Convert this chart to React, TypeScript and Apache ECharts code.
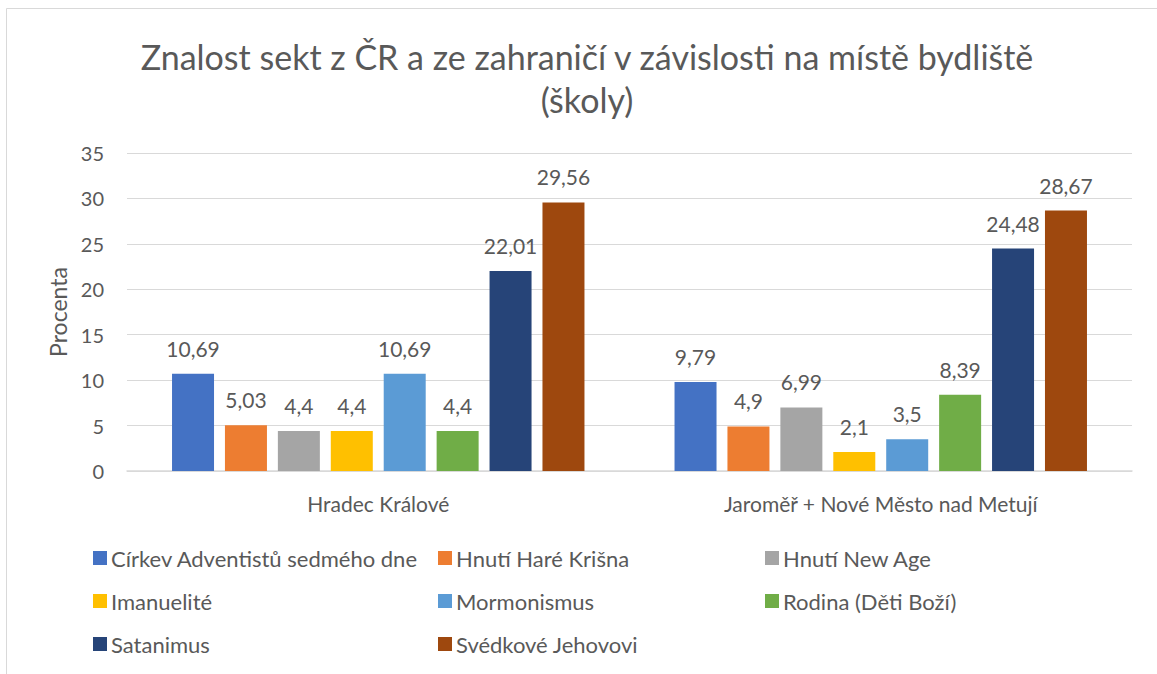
import React, { useEffect, useRef } from "react";
import * as echarts from "echarts";

const categories = ["Hradec Králové", "Jaroměř + Nové Město nad Metují"];
const seriesNames = [
  "Církev Adventistů sedmého dne",
  "Hnutí Haré Krišna",
  "Hnutí New Age",
  "Imanuelité",
  "Mormonismus",
  "Rodina (Děti Boží)",
  "Satanimus",
  "Svédkové Jehovovi",
];
const hradecValues = [10.69, 5.03, 4.4, 4.4, 10.69, 4.4, 22.01, 29.56];
const jaromerValues = [9.79, 4.9, 6.99, 2.1, 3.5, 8.39, 24.48, 28.67];
const colors = ["#4472C4", "#ED7D31", "#A5A5A5", "#FFC000", "#5B9BD5", "#70AD47", "#264478", "#9E480E"];
const legendColumns = [
  [0, 3, 6],
  [1, 4, 7],
  [2, 5],
];
const legendLefts = [88, 433, 760];

const FONT = "Lato";
const TXT = "#595959";

export default function App() {
  const ref = useRef<HTMLDivElement>(null);
  useEffect(() => {
    if (!ref.current) return;
    const chart = echarts.init(ref.current, null, { renderer: "svg" });
    chart.setOption({
      animation: false,
      backgroundColor: "#ffffff",
      textStyle: { fontFamily: FONT, color: TXT },
      title: {
        text: "Znalost sekt z ČR a ze zahraničí v závislosti na místě bydliště\n(školy)",
        left: 582,
        textAlign: "center",
        top: 30,
        textStyle: { fontFamily: FONT, fontSize: 34, fontWeight: "normal", color: TXT, lineHeight: 43 },
      },
      graphic: [
        {
          type: "rect",
          shape: { x: 6.5, y: 8.5, width: 1300, height: 800 },
          style: { fill: "none", stroke: "#d9d9d9", lineWidth: 1 },
          silent: true,
        },
      ],
      legend: legendColumns.map((col, i) => ({
        orient: "vertical",
        left: legendLefts[i],
        top: 542,
        itemWidth: 14,
        itemHeight: 14,
        itemGap: 21,
        icon: "rect",
        data: col.map((k) => seriesNames[k]),
        textStyle: { fontFamily: FONT, fontSize: 22, color: TXT, padding: [0, 0, 0, -1] },
      })),
      grid: { left: 127, right: 25, top: 153, bottom: 203, containLabel: false },
      xAxis: {
        type: "category",
        data: categories,
        axisTick: { show: false },
        axisLine: { show: true, lineStyle: { color: "#d9d9d9", width: 1.5 } },
        axisLabel: { fontFamily: FONT, fontSize: 21, color: TXT, margin: 22 },
      },
      yAxis: {
        type: "value",
        min: 0,
        max: 35,
        interval: 5,
        name: "Procenta",
        nameLocation: "middle",
        nameGap: 57,
        nameTextStyle: { fontFamily: FONT, fontSize: 23, color: TXT },
        axisLine: { show: false },
        axisTick: { show: false },
        splitLine: { lineStyle: { color: "#d9d9d9", width: 1 } },
        axisLabel: { fontFamily: FONT, fontSize: 20, color: TXT, margin: 23 },
      },
      series: seriesNames.map((name, i) => ({
        name,
        type: "bar",
        data: [hradecValues[i], jaromerValues[i]],
        barWidth: 42,
        barGap: "26%",
        itemStyle: { color: colors[i] },
        label: {
          show: true,
          position: "top",
          distance: 15,
          fontFamily: FONT,
          fontSize: 21,
          color: TXT,
          formatter: (p: any) => String(p.value).replace(".", ","),
        },
      })),
    });
    return () => chart.dispose();
  }, []);
  return (
    <div
      ref={ref}
      style={{ position: "absolute", left: 0, top: 0, width: 1157, height: 674 }}
    />
  );
}
